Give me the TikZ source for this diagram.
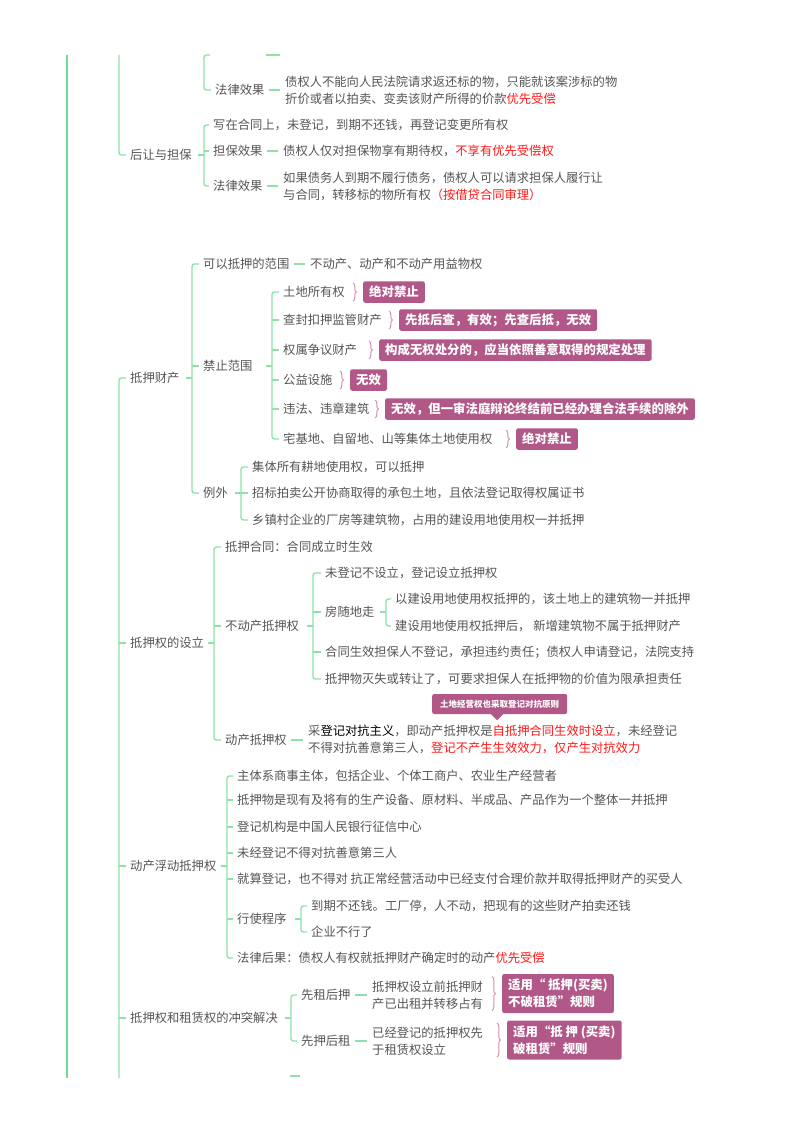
\documentclass[tikz,border=0pt]{standalone}
\usepackage{fontspec}
\setmainfont{Noto Sans CJK SC}
\usetikzlibrary{decorations.pathreplacing,calc}
\definecolor{txt}{RGB}{85,85,85}
\definecolor{redc}{RGB}{255,25,25}
\definecolor{tagc}{RGB}{178,88,136}
\definecolor{bracec}{RGB}{210,145,180}
\definecolor{linec}{RGB}{140,226,168}
\definecolor{trunkc}{RGB}{110,220,145}
\newcommand{\rd}[1]{\textcolor{redc}{#1}}
\newcommand{\mmbr}[4]{%
  \draw[br] ($(#1.east -| #2)+(-6,0)$) -- (#1.east -| #2);
  \draw[br,rounded corners=2.5pt] ([xshift=-4pt]#3.west) -- (#3.west -| #2) -- (#4.west -| #2) -- ([xshift=-4pt]#4.west);}
\newcommand{\mmtick}[2]{\draw[br] (#1.west -| #2) -- ([xshift=-4pt]#1.west);}
\newcommand{\mmln}[2]{\draw[br] ([xshift=4pt]#1.east) -- ($(#1.east -| #2.west)+(-5,0)$);}
\newcommand{\mmbrace}[2]{\draw[tbrace] ($(#1.west)+(-10,-#2)$) -- ($(#1.west)+(-10,#2)$);}
\begin{document}
\begin{tikzpicture}[x=1pt,y=-1pt,
  every node/.style={inner sep=0pt, anchor=west, text=txt, font=\fontsize{12.3}{17}\selectfont, text height=10pt, text depth=1.5pt},
  ml/.style={align=left, text height=, text depth=},
  br/.style={draw=linec, line width=1.35pt},
  tr/.style={draw=trunkc, line width=2.4pt},
  tag/.style={fill=tagc, rounded corners=2pt, text=white, font=\bfseries\fontsize{12.4}{17}\selectfont, inner xsep=6pt, inner ysep=5pt},
  callout/.style={fill=tagc, rounded corners=2pt, text=white, font=\bfseries\fontsize{8.5}{10}\selectfont, inner xsep=8pt, inner ysep=6pt, text height=7pt, text depth=1pt},
  tbrace/.style={draw=bracec, line width=1pt, decorate, decoration={brace, amplitude=3.5pt}},
]
\useasboundingbox (0,0) rectangle (800,1132);
\fill[white] (0,0) rectangle (800,1132);

% coordinates
\coordinate (T0) at (67,55); \coordinate (T1) at (67,1078);
\coordinate (L0) at (119,55); \coordinate (L1) at (119,1078);
\coordinate (b0) at (204,0); \coordinate (b1) at (204,0);
\coordinate (b2) at (192,0); \coordinate (b3) at (272,0);
\coordinate (b4) at (241,0); \coordinate (b5) at (214,0);
\coordinate (b6) at (313,0); \coordinate (b7) at (386,0);
\coordinate (b8) at (227,0); \coordinate (b9) at (301,0);
\coordinate (b10) at (291,0);
\coordinate (f0) at (210,55);
\coordinate (g0) at (266,55); \coordinate (g1) at (280,55);
\coordinate (e0) at (290,1076); \coordinate (e1) at (300,1076);

% ---- top part
\node (n1) at (215,90) {法律效果};
\node[ml] (n1t) at (285,90.5) {债权人不能向人民法院请求返还标的物，只能就该案涉标的物\\折价或者以拍卖、变卖该财产所得的价款\rd{优先受偿}};

\node (hr) at (130,155) {后让与担保};
\node (h1) at (213,125) {写在合同上，未登记，到期不还钱，再登记变更所有权};
\node (h2) at (213,151) {担保效果};
\node (h2t) at (283,151) {债权人仅对担保物享有期待权，\rd{不享有优先受偿权}};
\node (h3) at (213,186) {法律效果};
\node[ml] (h3t) at (283,186) {如果债务人到期不履行债务，债权人可以请求担保人履行让\\与合同，转移标的物所有权\rd{（按借贷合同审理）}};

% ---- 抵押财产
\node (dy) at (130,378) {抵押财产};
\node (p1) at (203,264) {可以抵押的范围};
\node (p1t) at (310,264) {不动产、动产和不动产用益物权};
\node (p2) at (203,366) {禁止范围};
\node (q1) at (283,292) {土地所有权};
\node (q2) at (283,320) {查封扣押监管财产};
\node (q3) at (283,350) {权属争议财产};
\node (q4) at (283,380) {公益设施};
\node (q5) at (283,409) {违法、违章建筑};
\node (q6) at (283,439) {宅基地、自留地、山等集体土地使用权};
\node[tag] (t1) at (363,292) {绝对禁止};
\node[tag] (t2) at (399,320) {先抵后查，有效；先查后抵，无效};
\node[tag] (t3) at (379,350) {构成无权处分的，应当依照善意取得的规定处理};
\node[tag] (t4) at (350,380) {无效};
\node[tag] (t5) at (385,409) {无效，但一审法庭辩论终结前已经办理合法手续的除外};
\node[tag] (t6) at (516,439) {绝对禁止};
\node (p3) at (203,493) {例外};
\node (r1) at (252,467) {集体所有耕地使用权，可以抵押};
\node (r2) at (252,493) {招标拍卖公开协商取得的承包土地，且依法登记取得权属证书};
\node (r3) at (252,520) {乡镇村企业的厂房等建筑物，占用的建设用地使用权一并抵押};

% ---- 抵押权的设立
\node (ds) at (130,643) {抵押权的设立};
\node (s1) at (225,547) {抵押合同：合同成立时生效};
\node (s2) at (225,626) {不动产抵押权};
\node (u1) at (325,573) {未登记不设立，登记设立抵押权};
\node (u2) at (325,612) {房随地走};
\node (w1) at (395,599) {以建设用地使用权抵押的，该土地上的建筑物一并抵押};
\node (w2) at (395,626) {建设用地使用权抵押后， 新增建筑物不属于抵押财产};
\node (u3) at (325,652) {合同生效担保人不登记，承担违约责任；债权人申请登记，法院支持};
\node (u4) at (325,679) {抵押物灭失或转让了，可要求担保人在抵押物的价值为限承担责任};
\node (s3) at (225,740) {动产抵押权};
\node[ml] (s3t) at (308,739) {采\textcolor{black}{登记对抗主义}，即动产抵押权是\rd{自抵押合同生效时设立}，未经登记\\不得对抗善意第三人，\rd{登记不产生生效效力，仅产生对抗效力}};
\node[callout] (cb) at (432,704) {土地经营权也采取登记对抗原则};

% ---- 动产浮动抵押权
\node (df) at (130,866) {动产浮动抵押权};
\node (v1) at (237,776) {主体系商事主体，包括企业、个体工商户、农业生产经营者};
\node (v2) at (237,800) {抵押物是现有及将有的生产设备、原材料、半成品、产品作为一个整体一并抵押};
\node (v3) at (237,827) {登记机构是中国人民银行征信中心};
\node (v4) at (237,853) {未经登记不得对抗善意第三人};
\node (v5) at (237,879) {就算登记，也不得对 抗正常经营活动中已经支付合理价款并取得抵押财产的买受人};
\node (v6) at (237,919) {行使程序};
\node (x1) at (311,906) {到期不还钱。工厂停，人不动，把现有的这些财产拍卖还钱};
\node (x2) at (311,932) {企业不行了};
\node (v7) at (237,958) {法律后果：债权人有权就抵押财产确定时的动产\rd{优先受偿}};

% ---- 冲突解决
\node (cf) at (130,1018) {抵押权和租赁权的冲突解决};
\node (y1) at (301,995) {先租后押};
\node[ml] (y1t) at (372,995) {抵押权设立前抵押财\\产已出租并转移占有};
\node[tag,ml] (z1) at (502,993.5) {适用“ 抵押(买卖)\\不破租赁”规则};
\node (y2) at (301,1041) {先押后租};
\node[ml] (y2t) at (372,1041) {已经登记的抵押权先\\于租赁权设立};
\node[tag,ml] (z2) at (507,1040) {适用“抵 押 (买卖)\\破租赁”规则};

% ---- connectors
\draw[tr] (T0) -- (T1);
\draw[br,rounded corners=2.5pt] (f0) -- (f0 -| b0) -- (n1.west -| b0) -- ([xshift=-4pt]n1.west);
\draw[br] (g0) -- (g1);
\mmln{n1}{n1t}
\draw[br,rounded corners=2.5pt] (L0) -- (hr.west -| L0) -- ([xshift=-4pt]hr.west);
\draw[br,rounded corners=2.5pt] ([xshift=-4pt]dy.west) -- (dy.west -| L0) -- (L1);
\mmtick{ds}{L0} \mmtick{df}{L0} \mmtick{cf}{L0}

\mmbr{hr}{b1}{h1}{h3} \mmtick{h2}{b1}
\mmln{h2}{h2t} \mmln{h3}{h3t}

\mmbr{dy}{b2}{p1}{p3} \mmtick{p2}{b2}
\mmln{p1}{p1t}
\mmbr{p2}{b3}{q1}{q6}
\mmtick{q2}{b3} \mmtick{q3}{b3} \mmtick{q4}{b3} \mmtick{q5}{b3}
\mmbrace{t1}{9} \mmbrace{t2}{9} \mmbrace{t3}{9} \mmbrace{t4}{9} \mmbrace{t5}{9} \mmbrace{t6}{9}
\mmbr{p3}{b4}{r1}{r3} \mmtick{r2}{b4}

\mmbr{ds}{b5}{s1}{s3} \mmtick{s2}{b5}
\mmbr{s2}{b6}{u1}{u4} \mmtick{u2}{b6} \mmtick{u3}{b6}
\mmbr{u2}{b7}{w1}{w2}
\mmln{s3}{s3t}
\fill[tagc] ([xshift=-8.5pt]cb.south) -- ([xshift=3.5pt]cb.south) -- ([xshift=-2.5pt,yshift=-6pt]cb.south) -- cycle;

\mmbr{df}{b8}{v1}{v7}
\mmtick{v2}{b8} \mmtick{v3}{b8} \mmtick{v4}{b8} \mmtick{v5}{b8} \mmtick{v6}{b8}
\mmbr{v6}{b9}{x1}{x2}

\mmbr{cf}{b10}{y1}{y2}
\mmln{y1}{y1t} \mmln{y2}{y2t}
\mmbrace{z1}{17} \mmbrace{z2}{17}
\draw[br] (e0) -- (e1);
\end{tikzpicture}
\end{document}
